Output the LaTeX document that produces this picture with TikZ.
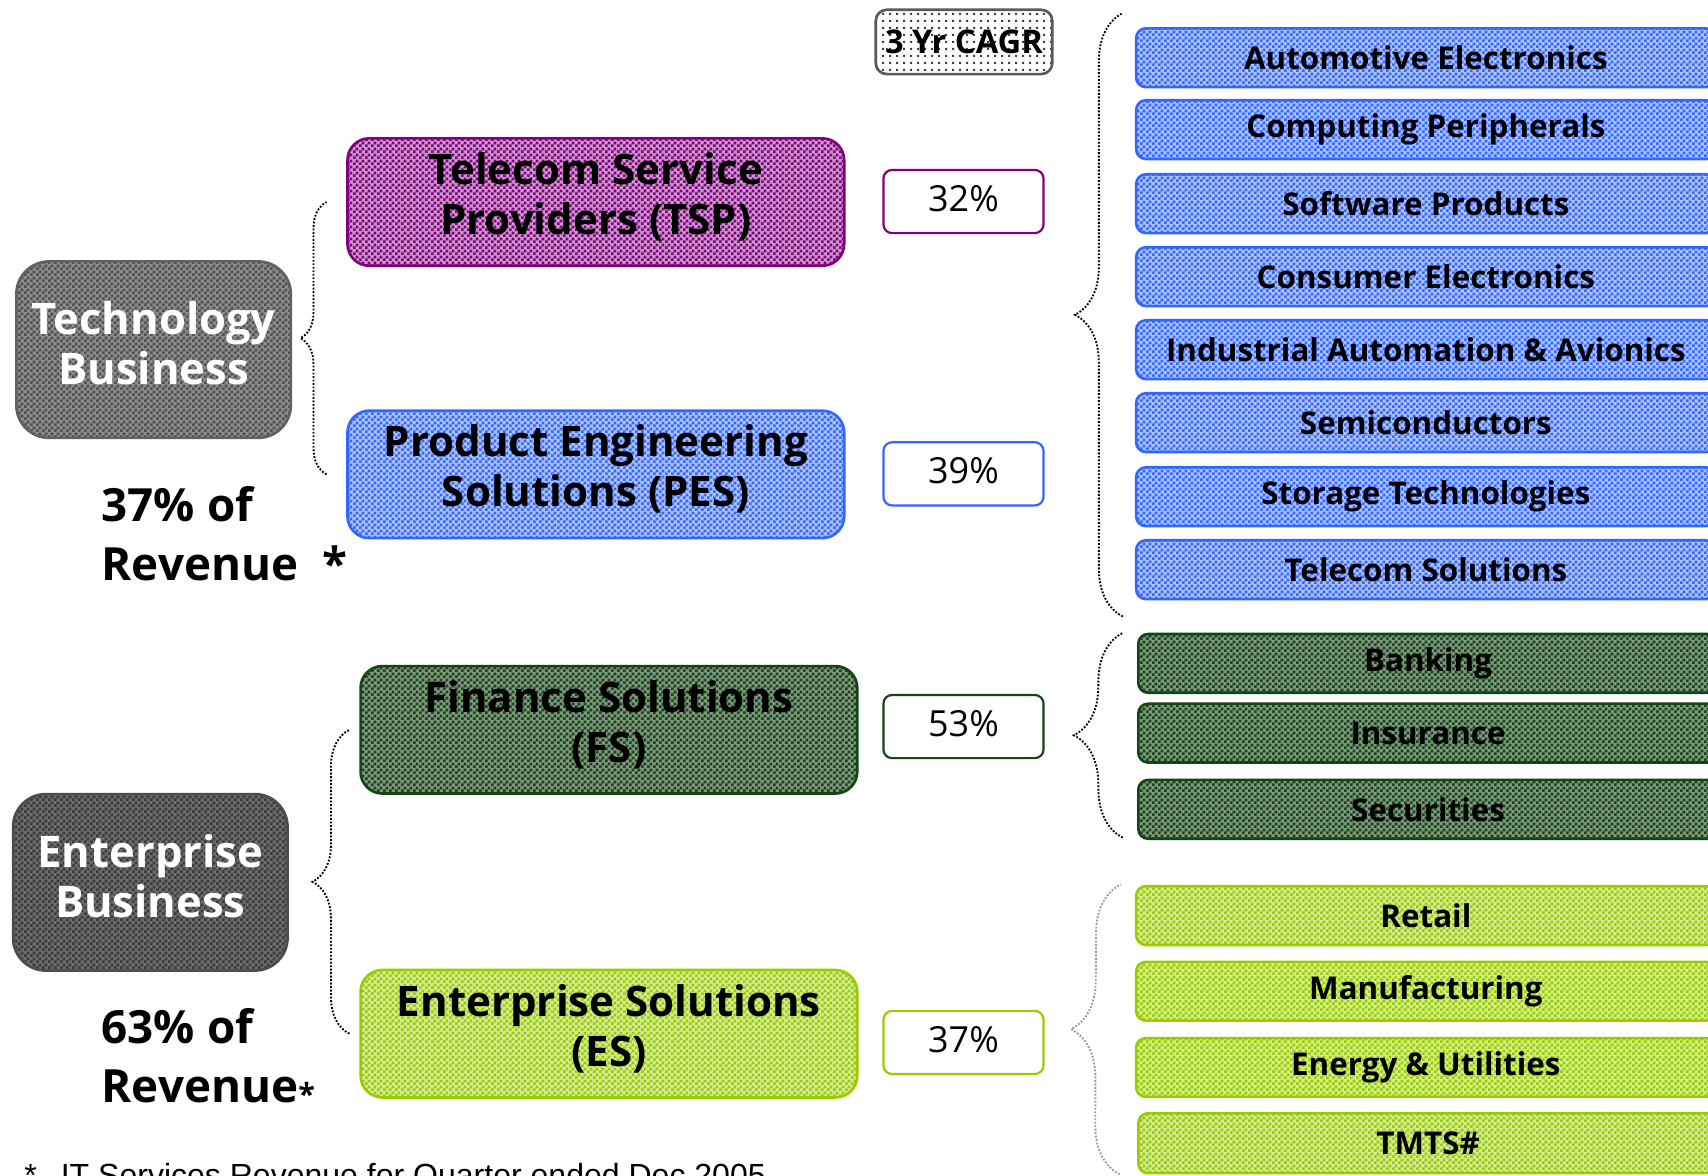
\documentclass[tikz,border=0pt]{standalone}
\usepackage{fontspec}
\setmainfont{Open Sans}
\newfontfamily\footfont{Liberation Sans}
\usetikzlibrary{patterns.meta,decorations.pathreplacing,calc}

\pgfdeclarepattern{
  name=chk,
  type=uncolored,
  bottom left={\pgfpoint{0pt}{0pt}},
  top right={\pgfpoint{2.8pt}{2.8pt}},
  tile size={\pgfpoint{2.8pt}{2.8pt}},
  code={
    \pgfpathrectangle{\pgfpointorigin}{\pgfpoint{1.4pt}{1.4pt}}
    \pgfpathrectangle{\pgfpoint{1.4pt}{1.4pt}}{\pgfpoint{1.4pt}{1.4pt}}
    \pgfusepath{fill}
  }
}
\pgfdeclarepattern{
  name=dotgrid,
  type=uncolored,
  bottom left={\pgfpoint{0pt}{0pt}},
  top right={\pgfpoint{3pt}{3pt}},
  tile size={\pgfpoint{3pt}{3pt}},
  code={
    \pgfpathrectangle{\pgfpointorigin}{\pgfpoint{1pt}{1pt}}
    \pgfusepath{fill}
  }
}

\definecolor{tspc}{RGB}{128,0,128}
\definecolor{pesc}{RGB}{51,102,255}
\definecolor{fsc}{RGB}{22,68,22}
\definecolor{esc}{RGB}{153,204,0}
\definecolor{techdark}{RGB}{80,80,80}
\definecolor{techlight}{RGB}{140,140,140}
\definecolor{entdark}{RGB}{58,58,58}
\definecolor{entlight}{RGB}{108,108,108}

\begin{document}
\begin{tikzpicture}[x=0.5pt,y=-0.5pt,
  chkbox/.style 2 args={draw=#1, pattern=chk, pattern color=#1, preaction={fill=#1!#2!white}},
  bizbox/.style={rounded corners=15pt, minimum width=126pt, minimum height=81pt,
    line width=1.2pt, inner sep=0pt},
  biztext/.style={text=white, align=center, inner sep=0pt, yshift=3pt,
    font=\bfseries\fontsize{20}{23}\selectfont},
  midbox/.style 2 args={chkbox={#1}{#2}, rounded corners=10pt, minimum width=228pt, minimum height=58.5pt,
    line width=1.2pt, align=center, inner sep=0pt, text=black, text depth=7.8pt,
    font=\bfseries\fontsize{19.3}{23}\selectfont},
  listbox/.style 2 args={chkbox={#1}{#2}, rounded corners=4.5pt, minimum width=266pt, minimum height=27pt,
    line width=1.2pt, inner sep=0pt, text=black,
    font=\bfseries\fontsize{14.4}{16}\selectfont},
  pctbox/.style={draw=#1, fill=white, rounded corners=4pt, minimum width=73.5pt,
    minimum height=29pt, line width=1pt, inner sep=0pt, text depth=3pt,
    font=\fontsize{16.5}{18}\selectfont},
  revtext/.style={align=left, anchor=west, inner sep=0pt,
    font=\bfseries\fontsize{21}{27.5}\selectfont},
  bracestyle/.style={decorate, decoration={brace, amplitude=#1},
    line width=0.85pt, dash pattern=on 0.85pt off 0.75pt}
]
\useasboundingbox (0,0) rectangle (1568,1079);
\clip (0,0) rectangle (1568,1079);

% header
\node[draw=black!65, pattern=dotgrid, pattern color=black!75, preaction={fill=white},
  rounded corners=5pt, line width=1.2pt, minimum width=81pt, minimum height=29.5pt,
  inner sep=0pt, font=\bfseries\fontsize{15}{17}\selectfont] (cagr) at (885,38.5) {3 Yr CAGR};

% business boxes
\node[bizbox, draw=black!62, pattern=chk, pattern color=techdark, preaction={fill=techlight},
  label={[biztext]center:Technology\\Business}] (tech) at (141,321) {};
\node[bizbox, draw=black!70, pattern=chk, pattern color=entdark, preaction={fill=entlight},
  label={[biztext]center:Enterprise\\Business}] (ent) at (138,810) {};

\node[revtext] (techrev) at (93,490) {37\% of\\Revenue\hspace{11pt}*};
\node[revtext] (entrev) at (93,970) {63\% of\\Revenue\raisebox{-1pt}{\fontsize{14}{14}\selectfont *}};

% middle boxes
\node[midbox={tspc}{40}] (tsp) at (547,185.5) {Telecom Service\\Providers (TSP)};
\node[midbox={pesc}{40}] (pes) at (547,435.5) {Product Engineering\\Solutions (PES)};
\node[midbox={fsc}{55}] (fs) at (559,670) {Finance Solutions\\(FS)};
\node[midbox={esc}{40}] (es) at (559,949) {Enterprise Solutions\\(ES)};

% percentages
\node[pctbox=tspc] (p1) at (884.5,185) {32\%};
\node[pctbox=pesc] (p2) at (884.5,435) {39\%};
\node[pctbox=fsc] (p3) at (884.5,667) {53\%};
\node[pctbox=esc] (p4) at (884.5,957) {37\%};

% PES list
\node[listbox={pesc}{40}] (auto) at (1309,53) {Automotive Electronics};
\node[listbox={pesc}{40}] (comp) at (1309,119) {Computing Peripherals};
\node[listbox={pesc}{40}] (soft) at (1309,187) {Software Products};
\node[listbox={pesc}{40}] (cons) at (1309,254) {Consumer Electronics};
\node[listbox={pesc}{40}] (indu) at (1309,321) {Industrial Automation \& Avionics};
\node[listbox={pesc}{40}] (semi) at (1309,388) {Semiconductors};
\node[listbox={pesc}{40}] (stor) at (1309,456) {Storage Technologies};
\node[listbox={pesc}{40}] (tele) at (1309,523) {Telecom Solutions};

% FS list
\node[listbox={fsc}{55}] (bank) at (1311,609) {Banking};
\node[listbox={fsc}{55}] (insu) at (1311,673) {Insurance};
\node[listbox={fsc}{55}] (secu) at (1311,743) {Securities};

% ES list
\node[listbox={esc}{40}] (reta) at (1309,840.5) {Retail};
\node[listbox={esc}{40}] (manu) at (1309,910) {Manufacturing};
\node[listbox={esc}{40}] (ener) at (1309,980) {Energy \& Utilities};
\node[listbox={esc}{40}, minimum height=27.5pt] (tmts) at (1311,1049.5) {TMTS\#};

% braces
\draw[bracestyle=12pt, black] ($(pes.west)+(-18,0)$) -- ($(tsp.west)+(-18,0)$);
\draw[bracestyle=17pt, black] ($(es.west)+(-9,0)$) -- ($(fs.west)+(-9,0)$);
\draw[bracestyle=22pt, black] ($(tele.west)+(-11,43)$) -- ($(auto.west)+(-11,-41)$);
\draw[bracestyle=22.5pt, black] ($(secu.west)+(-13,26)$) -- ($(bank.west)+(-13,-28)$);
\draw[bracestyle=22.5pt, black!40] ($(tmts.west)+(-16,28.5)$) -- ($(reta.west)+(-13,-28.5)$);

% footnote
\node[anchor=base west, inner sep=0pt, font=\footfont\fontsize{14.7}{16}\selectfont]
  (foot) at (22,1089) {*\hspace{11pt}IT Services Revenue for Quarter ended Dec 2005};
\end{tikzpicture}
\end{document}
